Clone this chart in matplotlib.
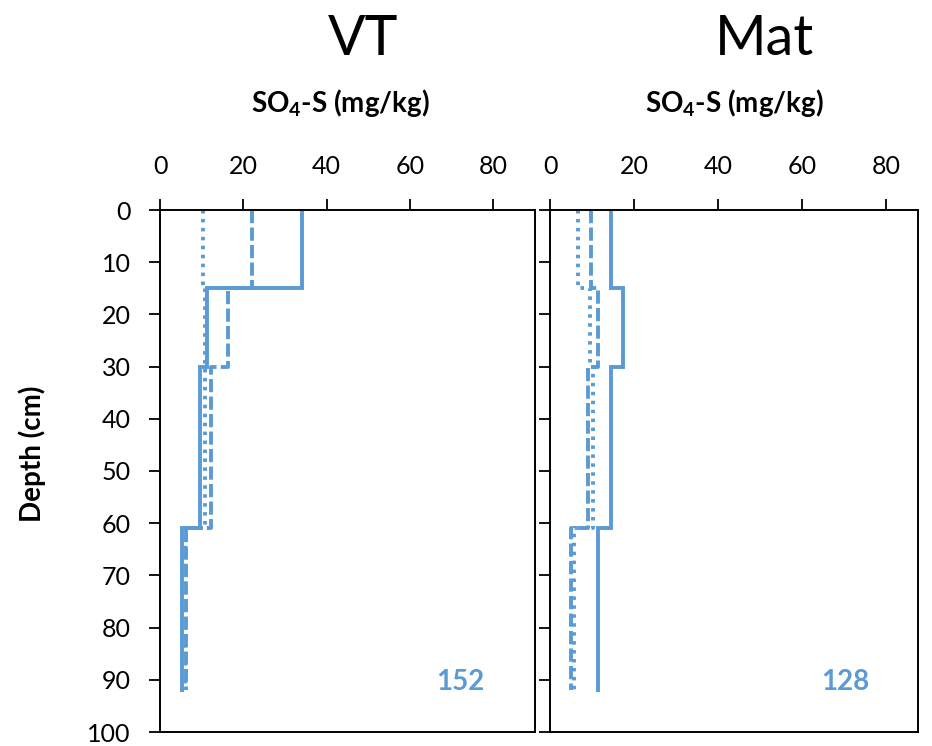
import matplotlib
matplotlib.use("Agg")
import matplotlib.pyplot as plt

plt.rcParams["font.family"] = ["Lato", "DejaVu Sans"]
plt.rcParams["mathtext.fontset"] = "custom"
plt.rcParams["mathtext.rm"] = "Lato"
plt.rcParams["mathtext.bf"] = "Lato:bold"

BLUE = "#5B9BD5"

# layer boundaries (cm)
depths = [0, 15, 30, 61, 92]

# SO4-S per layer (mg/kg)
vt_solid = [34, 11.2, 9.7, 5.2]
vt_dashed = [22, 16.3, 12.2, 6.2]
vt_dotted = [10.4, 10.8, 10.9, 6.0]

mat_solid = [14.5, 17.3, 14.5, 11.4]
mat_dashed = [9.8, 11.3, 9.0, 5.0]
mat_dotted = [6.6, 9.6, 10.2, 5.6]

panel_names = ["VT", "Mat"]
panel_counts = ["152", "128"]
depth_ticks = list(range(0, 101, 10))
x_ticks = [0, 20, 40, 60, 80]


def step_profile(values):
    xs, ys = [], []
    for i, v in enumerate(values):
        xs += [v, v]
        ys += [depths[i], depths[i + 1]]
    return xs, ys


W, H = 932, 746
fig = plt.figure(figsize=(W / 100, H / 100), dpi=100)


def px_axes(x0, x1, y0, y1):
    return fig.add_axes([x0 / W, 1 - y1 / H, (x1 - x0) / W, (y1 - y0) / H])


ax_vt = px_axes(160, 535, 210, 732)
ax_mat = px_axes(550, 918, 210, 732)

panels = [
    (ax_vt, [vt_solid, vt_dashed, vt_dotted], 90, (72, 92)),
    (ax_mat, [mat_solid, mat_dashed, mat_dotted], 87.5, (70.3, 92)),
]
styles = ["-", (0, (3.4, 1.1)), (0, (0.9, 1.4))]

for i, (ax, series, xmax, count_pos) in enumerate(panels):
    for vals, ls in zip(series, styles):
        xs, ys = step_profile(vals)
        ax.plot(xs, ys, color=BLUE, lw=2.8, linestyle=ls,
                solid_joinstyle="miter", dash_capstyle="butt")
    ax.set_xlim(0, xmax)
    ax.set_ylim(100, 0)
    ax.xaxis.tick_top()
    ax.set_xticks(x_ticks)
    ax.set_yticks(depth_ticks)
    ax.tick_params(axis="both", direction="out", length=8, width=1.3,
                   labelsize=18, colors="black")
    ax.tick_params(axis="x", pad=15)
    ax.tick_params(axis="y", pad=13)
    if i == 1:
        ax.set_yticklabels([])
    for sp in ax.spines.values():
        sp.set_linewidth(1.4)
        sp.set_color("black")
    ax.text(count_pos[0], count_pos[1], panel_counts[i], color=BLUE,
            fontsize=20, fontweight="bold", ha="center", va="baseline")

# panel titles and axis labels
fig.text(363 / W, 1 - 55 / H, panel_names[0], fontsize=40, ha="center", va="baseline")
fig.text(765 / W, 1 - 55 / H, panel_names[1], fontsize=40, ha="center", va="baseline")
for cx in (340, 734):
    fig.text(cx / W, 1 - 112 / H, r"SO$_\mathbf{4}$-S (mg/kg)", fontsize=20,
             fontweight="bold", ha="center", va="baseline")
fig.text(32 / W, 1 - 454 / H, "Depth (cm)", fontsize=20, fontweight="bold",
         rotation=90, ha="center", va="center")

fig.savefig("out.png", dpi=100)
